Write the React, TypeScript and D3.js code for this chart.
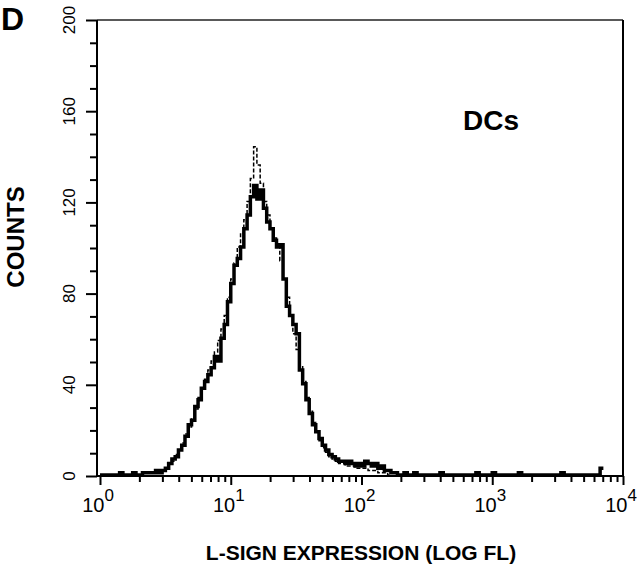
import { useEffect, useRef } from "react";
import * as d3 from "d3";

// histogram channels: 0.025 decade per bin, starting at 10^0
const binWidth = 0.025;

// L-SIGN stained DCs (solid trace)
const solidCounts = [
  0, 0, 0, 0, 0, 0, 1, 0, 0, 0, 1, 0, 0, 1, 1,
  1, 1, 2, 1, 2, 3, 5, 7, 8, 11, 13, 17, 22, 24, 30,
  33, 38, 41, 44, 47, 52, 50, 60, 66, 76, 84, 92, 95, 100, 108,
  114, 122, 127, 121, 125, 117, 111, 108, 103, 100, 101, 86, 74, 70, 66,
  62, 46, 40, 33, 27, 22, 19, 16, 13, 11, 9, 8, 7, 6, 6,
  5, 6, 5, 4, 5, 4, 6, 5, 4, 5, 3, 4, 2, 2, 1,
  1, 0, 0, 1, 0, 0, 1, 0, 0, 0, 0, 0, 0, 0, 1,
  0, 0, 0, 0, 0, 0, 0, 0, 0, 0, 1, 0, 0, 0, 0,
  1, 0, 0, 0, 0, 0, 0, 0, 1, 0, 0, 0, 0, 0, 0,
  0, 0, 0, 0, 0, 0, 1, 0, 0, 0, 0, 0, 0, 0, 0,
  0, 0, 0, 3,
];

// control trace (dashed), starting at bin 20
const dashedStart = 20;
const dashedCounts = [
  3, 5, 6, 9, 11, 14, 18, 21, 25, 29,
  34, 38, 42, 46, 50, 54, 59, 64, 70, 78,
  86, 93, 100, 106, 112, 120, 130, 144, 136, 128,
  120, 114, 108, 104, 100, 94, 86, 78, 70, 62,
  55, 48, 41, 34, 28, 23, 19, 15, 12, 10,
  8, 7, 6, 5, 5, 4, 4, 4, 3, 3,
  3, 3, 2, 2, 2, 1, 1, 1, 0,
];

const yMajor = [0, 40, 80, 120, 160, 200];
const xDecades = [0, 1, 2, 3, 4];

export default function App() {
  const svgRef = useRef<SVGSVGElement>(null);

  useEffect(() => {
    const width = 640;
    const height = 567;
    const svg = d3.select(svgRef.current);
    svg.attr("width", width).attr("height", height).selectAll("*").remove();

    const x = d3.scaleLog().domain([1, 10000]).range([100, 623]);
    const y = d3.scaleLinear().domain([0, 200]).range([476, 20]);
    const font = "Liberation Sans, Arial, Helvetica, sans-serif";

    // histogram traces as steps
    const toPoints = (counts: number[], start: number) => {
      const pts = counts.map((c, i) => [Math.pow(10, (start + i) * binWidth), c] as [number, number]);
      const last = counts[counts.length - 1];
      pts.push([Math.pow(10, (start + counts.length) * binWidth), last]);
      return pts;
    };
    const line = d3
      .line<[number, number]>()
      .x((d) => x(d[0]))
      .y((d) => y(d[1]) - 1)
      .curve(d3.curveStepAfter);

    svg
      .append("path")
      .attr("d", line(toPoints(solidCounts, 0)))
      .attr("fill", "none")
      .attr("stroke", "#000")
      .attr("stroke-width", 3.5)
      .attr("stroke-linejoin", "miter");

    svg
      .append("path")
      .attr("d", line(toPoints(dashedCounts, dashedStart)))
      .attr("fill", "none")
      .attr("stroke", "#000")
      .attr("stroke-width", 1.5)
      .attr("stroke-dasharray", "4,2");

    // frame: top and right
    svg
      .append("line")
      .attr("x1", 97).attr("x2", 623)
      .attr("y1", y(200)).attr("y2", y(200))
      .attr("stroke", "#222").attr("stroke-width", 1.5);
    svg
      .append("line")
      .attr("x1", 623).attr("x2", 623)
      .attr("y1", y(200)).attr("y2", y(0))
      .attr("stroke", "#000").attr("stroke-width", 2);

    // Y axis
    const yAxis = svg
      .append("g")
      .attr("transform", "translate(97,0)")
      .call(d3.axisLeft(y).tickValues(d3.range(0, 201, 10)).tickSize(7).tickFormat(() => ""));
    yAxis.selectAll("path, line").attr("stroke", "#000").attr("stroke-width", 2);
    yAxis.select(".domain").attr("d", `M0,${y(200)}V${y(0)}`);
    yAxis
      .selectAll<SVGLineElement, number>(".tick line")
      .attr("x2", (d) => (yMajor.includes(d) ? -11 : -7));

    svg
      .selectAll(".ylab")
      .data(yMajor)
      .enter()
      .append("text")
      .attr("class", "ylab")
      .attr("transform", (d) => `translate(75,${y(d)}) rotate(-90)`)
      .attr("text-anchor", "middle")
      .attr("font-family", font)
      .attr("font-size", 17)
      .text((d) => d);

    // X axis
    const minor: number[] = [];
    xDecades.slice(0, -1).forEach((p) => {
      for (let m = 2; m <= 9; m++) minor.push(m * Math.pow(10, p));
    });
    const majors = xDecades.map((p) => Math.pow(10, p));
    const xAxis = svg
      .append("g")
      .attr("transform", `translate(0,${y(0)})`)
      .call(d3.axisBottom(x).tickValues([...majors, ...minor]).tickSize(6).tickFormat(() => ""));
    xAxis.selectAll("path, line").attr("stroke", "#000").attr("stroke-width", 2);
    xAxis.select(".domain").attr("d", "M97,0H623");
    xAxis
      .selectAll<SVGLineElement, number>(".tick line")
      .attr("y2", (d) => (majors.includes(d) ? 9 : 6));

    const xl = svg
      .selectAll(".xlab")
      .data(xDecades)
      .enter()
      .append("text")
      .attr("class", "xlab")
      .attr("x", (d) => x(Math.pow(10, d)) - 2)
      .attr("y", 512)
      .attr("text-anchor", "middle")
      .attr("font-family", font)
      .attr("font-size", 20);
    xl.append("tspan").text("10");
    xl.append("tspan")
      .attr("dy", -11)
      .attr("font-size", 17)
      .text((d) => d);

    // titles
    svg
      .append("text")
      .attr("x", 361)
      .attr("y", 560)
      .attr("text-anchor", "middle")
      .attr("font-family", font)
      .attr("font-weight", "bold")
      .attr("font-size", 21)
      .text("L-SIGN EXPRESSION (LOG FL)");

    svg
      .append("text")
      .attr("transform", "translate(24,237) rotate(-90)")
      .attr("text-anchor", "middle")
      .attr("font-family", font)
      .attr("font-weight", "bold")
      .attr("font-size", 24)
      .text("COUNTS");

    svg
      .append("text")
      .attr("x", 1)
      .attr("y", 30)
      .attr("font-family", font)
      .attr("font-weight", "bold")
      .attr("font-size", 32)
      .text("D");

    svg
      .append("text")
      .attr("x", 463)
      .attr("y", 130)
      .attr("font-family", font)
      .attr("font-weight", "bold")
      .attr("font-size", 28)
      .text("DCs");
  }, []);

  return (
    <svg
      ref={svgRef}
      style={{ position: "absolute", left: 0, top: 0, background: "#fff" }}
    ></svg>
  );
}
